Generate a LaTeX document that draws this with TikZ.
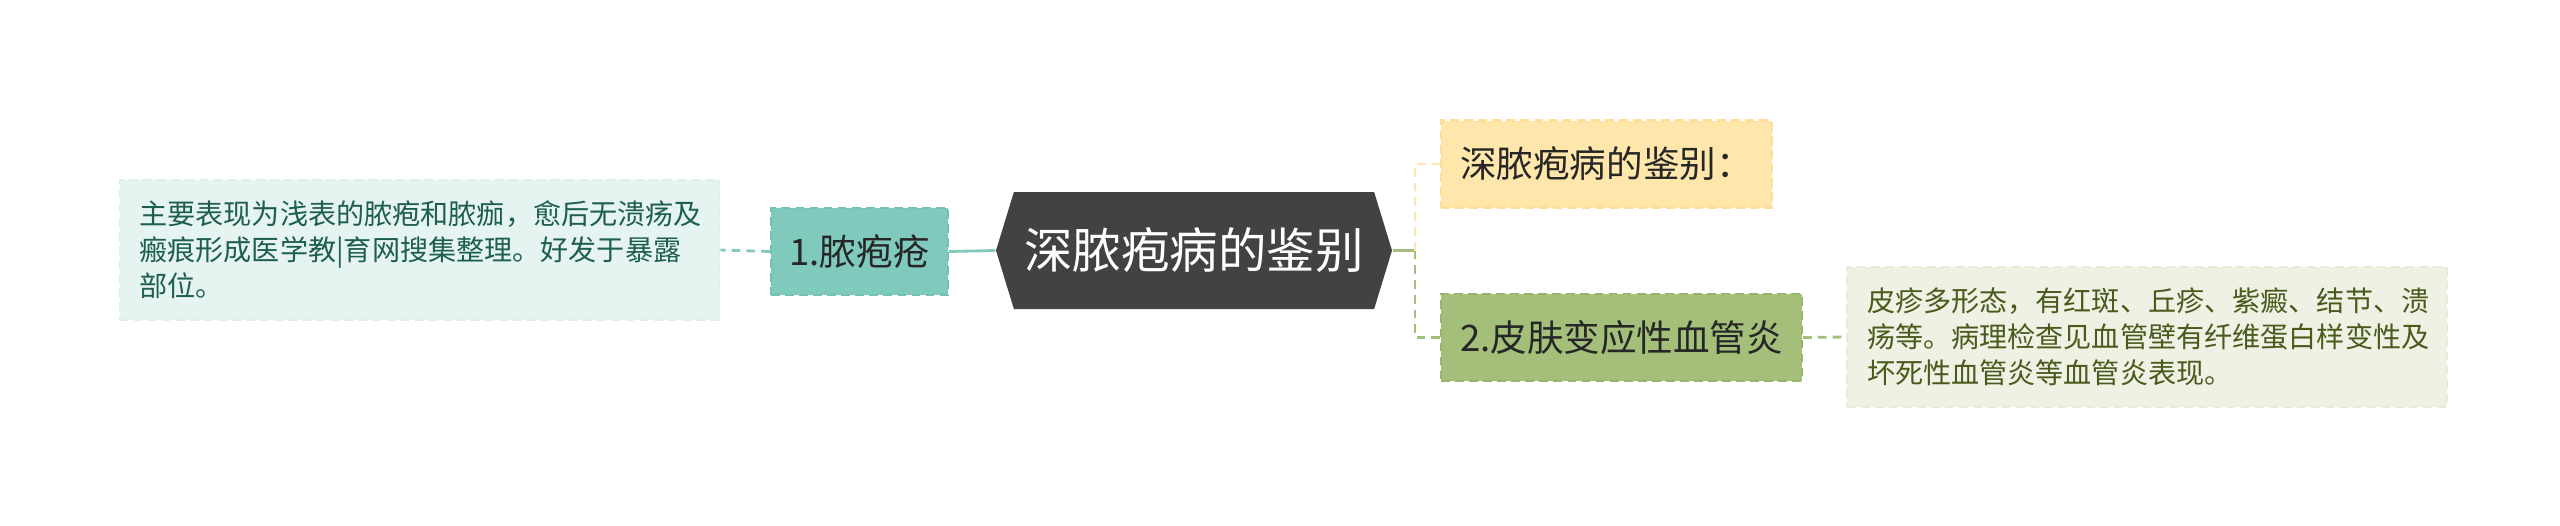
\documentclass[tikz,border=0pt]{standalone}
\usepackage{fontspec}
\newfontfamily\cjk{Noto Sans CJK SC}
\usetikzlibrary{shapes.symbols}
\definecolor{hubgray}{HTML}{424242}
\definecolor{tealfill}{HTML}{80CABD}
\definecolor{tealedge}{HTML}{72C2B4}
\definecolor{tealleaf}{HTML}{E5F4F1}
\definecolor{tealtext}{HTML}{1E5E51}
\definecolor{yellowfill}{HTML}{FFE6AB}
\definecolor{yellowedge}{HTML}{FFDE9C}
\definecolor{greenfill}{HTML}{A4BF7A}
\definecolor{greenedge}{HTML}{98B56D}
\definecolor{greenleaf}{HTML}{EEF1E3}
\definecolor{greentext}{HTML}{4A5A1C}
\tikzset{
  hubbox/.style={signal, signal to=west and east, signal pointer angle=146,
    fill=hubgray, text=white, font=\cjk\fontsize{13.8}{16}\selectfont,
    minimum width=3.96cm, minimum height=1.17cm, inner sep=0pt},
  topicbox/.style={dash pattern=on 2.5pt off 1.5pt, line width=0.6pt,
    font=\cjk\fontsize{10.4}{12}\selectfont, text=black!85,
    minimum height=0.87cm, inner sep=0pt},
  leafbox/.style={dash pattern=on 2.5pt off 1.5pt, line width=0.5pt,
    font=\cjk\fontsize{8}{10.2}\selectfont, text width=5.6cm, align=left,
    minimum height=1.4cm, inner xsep=0.2cm, inner ysep=0pt},
  link/.style={line width=0.8pt},
  dashlink/.style={line width=0.8pt, dash pattern=on 2.5pt off 1.7pt}
}
\begin{document}
\begin{tikzpicture}
        \useasboundingbox[fill=white] (0,0) rectangle (25.6,-5.25);
        
        \node[hubbox] (hub) at (11.94,-2.505) {深脓疱病的鉴别};
        
        \node[topicbox, fill=tealfill, draw=tealedge, minimum width=1.77cm] (pustule) at (8.595,-2.515) {1.脓疱疮};
        \node[leafbox, fill=tealleaf, draw=tealleaf!90!tealfill, text=tealtext] (pustuleleaf) at (4.195,-2.50) {主要表现为浅表的脓疱和脓痂，愈后无溃疡及\\瘢痕形成医学教|育网搜集整理。好发于暴露\\部位。};
        
        \node[topicbox, fill=yellowfill, draw=yellowedge, minimum width=3.31cm] (heading) at (16.065,-1.64) {深脓疱病的鉴别：};
        \node[topicbox, fill=greenfill, draw=greenedge, minimum width=3.61cm] (vasculitis) at (16.215,-3.375) {2.皮肤变应性血管炎};
        \node[leafbox, fill=greenleaf, draw=greenleaf!90!greenfill, text=greentext] (vasculitisleaf) at (21.47,-3.37) {皮疹多形态，有红斑、丘疹、紫癜、结节、溃\\疡等。病理检查见血管壁有纤维蛋白样变性及\\坏死性血管炎等血管炎表现。};
        
        \coordinate (fork) at (14.15,-2.505);
        
        \draw[link, tealfill] (hub.west) -- (pustule.east);
        \draw[dashlink, tealfill] (pustule.west) -- (pustuleleaf.east);
        \draw[link, greenfill] (hub.east) -- (fork);
        \draw[dashlink, yellowfill] (fork) |- (heading.west);
        \draw[dashlink, greenfill] (fork) |- (vasculitis.west);
        \draw[dashlink, greenfill] (vasculitis.east) -- (vasculitisleaf.west);
    \end{tikzpicture}
\end{document}
